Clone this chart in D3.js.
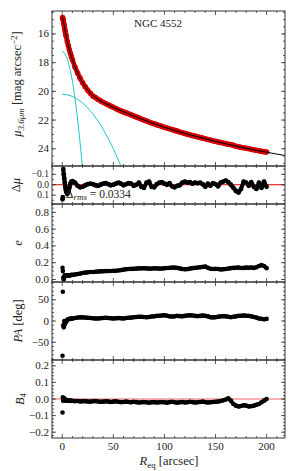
<!DOCTYPE html>
<html>
<head>
<meta charset="utf-8">
<script src="https://cdn.jsdelivr.net/npm/d3@7"></script>
<style>
  body { margin: 0; background: #fff; }
  svg text { font-family: "Liberation Serif", "DejaVu Serif", serif; fill: #222; }
</style>
</head>
<body>
<svg id="chart" width="293" height="471"></svg>
<script>
// radius grid of the isophote fit (arcsec)
var radius = [0.3,0.6,1,1.5,2,2.5,3,3.5,4,5,6,7,8,9,10,
  12.5,15,17.5,20,22.5,25,27.5,30,32.5,35,37.5,40,42.5,45,47.5,50,52.5,55,57.5,60,
  62.5,65,67.5,70,72.5,75,77.5,80,82.5,85,87.5,90,92.5,95,97.5,100,102.5,105,107.5,110,
  112.5,115,117.5,120,122.5,125,127.5,130,132.5,135,137.5,140,142.5,145,147.5,150,
  152.5,155,157.5,160,162.5,165,167.5,170,172.5,175,177.5,180,182.5,185,187.5,190,
  192.5,195,197.5,200];

var mu = [14.85,14.92,15.05,15.25,15.45,15.65,15.85,16.03,16.2,16.52,16.82,17.1,17.35,17.58,17.8,
  18.3,18.72,19.08,19.4,19.68,19.92,20.13,20.32,20.43,20.55,20.66,20.76,20.85,20.94,21.03,21.11,21.2,21.28,21.36,21.43,
  21.5,21.57,21.64,21.71,21.78,21.85,21.92,21.99,22.06,22.13,22.2,22.26,22.32,22.38,22.44,22.5,22.55,22.61,22.66,22.72,
  22.77,22.83,22.88,22.93,22.98,23.03,23.08,23.12,23.17,23.21,23.26,23.3,23.35,23.39,23.44,23.48,
  23.52,23.56,23.6,23.64,23.68,23.71,23.76,23.82,23.86,23.9,23.93,23.96,24.0,24.04,24.07,24.1,
  24.14,24.17,24.2,24.23];

var dmu = [0.14,0.12,-0.15,-0.1,-0.06,-0.02,0.02,0.05,0.07,0.09,0.07,0.03,-0.01,-0.03,-0.035,
  -0.02,0.01,0.025,0.02,0.005,-0.005,-0.01,-0.005,0.005,0.01,0.0,-0.01,-0.015,-0.005,0.005,0.0,-0.01,-0.02,-0.01,0.005,
  -0.005,-0.015,-0.01,0.01,0.0,-0.02,0.02,0.03,-0.02,-0.03,0.02,0.025,-0.005,-0.02,-0.025,-0.01,0.0,-0.015,0.015,0.025,
  0.01,0.005,-0.02,-0.03,-0.02,-0.025,-0.01,-0.02,-0.015,-0.02,-0.005,0.02,-0.01,0.01,-0.015,-0.005,
  0.015,-0.02,-0.03,-0.04,-0.025,0.0,0.03,0.06,0.075,0.04,-0.03,-0.02,0.01,-0.025,0.02,0.04,
  -0.02,0.03,-0.03,0.02];

var ellip = [0.14,0.1,0.02,0.0,0.03,0.05,0.04,0.05,0.045,0.05,0.05,0.045,0.05,0.055,0.055,
  0.06,0.065,0.07,0.078,0.082,0.085,0.09,0.09,0.092,0.095,0.097,0.098,0.1,0.1,0.102,0.103,0.105,0.108,0.112,0.118,
  0.122,0.125,0.127,0.128,0.13,0.132,0.133,0.134,0.132,0.13,0.131,0.133,0.132,0.13,0.131,0.134,0.137,0.139,0.141,0.141,
  0.138,0.132,0.125,0.122,0.124,0.13,0.135,0.138,0.142,0.146,0.15,0.153,0.14,0.128,0.125,0.127,
  0.125,0.12,0.122,0.125,0.13,0.135,0.138,0.14,0.142,0.137,0.138,0.142,0.14,0.143,0.138,0.145,
  0.16,0.172,0.16,0.135];

var pa = [-82,69,-10,-15,0,-8,-5,0,-2,3,4,5,5,6,6,
  7,8,8.5,8.5,8,7.5,7,6.5,6,6,6.5,7,7.5,7,6.5,6,6.5,7,6.5,6,
  7,7.5,8,9,9.5,10,10,9.5,9,9.5,10.5,11,12,12.5,13,13.5,12.5,11,10.5,11,
  12,11.5,11,12,13,13.5,13,12,11.5,12,13,12,11,9,8.5,9,
  10,11,11.5,11,10,9,10,11,12,12.5,13,12.5,12,11,9.5,8,
  6,5,4,5];

var b4 = [-0.081,0.01,-0.01,0.005,-0.005,0.0,-0.008,-0.005,-0.01,-0.008,-0.01,-0.01,-0.012,-0.01,-0.012,
  -0.013,-0.012,-0.015,-0.014,-0.013,-0.015,-0.016,-0.014,-0.012,-0.015,-0.017,-0.016,-0.014,-0.015,-0.018,-0.016,-0.014,-0.017,-0.019,-0.018,
  -0.016,-0.018,-0.02,-0.017,-0.019,-0.021,-0.02,-0.018,-0.02,-0.022,-0.02,-0.019,-0.021,-0.02,-0.018,-0.02,-0.022,-0.019,-0.017,-0.02,
  -0.022,-0.02,-0.018,-0.021,-0.02,-0.017,-0.019,-0.021,-0.02,-0.018,-0.016,-0.019,-0.021,-0.02,-0.018,-0.017,
  -0.015,-0.012,-0.008,-0.003,0.004,-0.01,-0.03,-0.04,-0.045,-0.042,-0.038,-0.04,-0.045,-0.043,-0.04,-0.035,
  -0.03,-0.02,-0.01,0.0];

// total model and the two plotted components
var modelR = [0,1,2,3,4,5,6,7,8,10,12,14,16,18,20,24,28,32,36,40,45,50,60,70,80,90,100,110,120,130,140,150,160,170,180,190,200,210,218];
var modelMu = [14.8,15.05,15.45,15.85,16.2,16.52,16.82,17.1,17.35,17.8,18.2,18.56,18.87,19.16,19.4,19.82,20.17,20.4,20.6,20.76,20.94,21.11,21.43,21.71,21.99,22.26,22.5,22.72,22.93,23.12,23.3,23.48,23.65,23.81,23.97,24.11,24.24,24.37,24.47];

var comp1R = [0,2,4,6,8,10,12,14,16,18,19.5,20.5];
var comp1Mu = [17.23,17.31,17.56,17.98,18.55,19.3,20.2,21.3,22.56,23.95,25.1,25.9];
var comp2R = [0,5,10,15,20,25,30,35,40,45,50,55,58];
var comp2Mu = [20.2,20.24,20.35,20.54,20.81,21.15,21.57,22.06,22.63,23.28,24.0,24.8,25.3];

var xTicks = [0,50,100,150,200];

var svg = d3.select("#chart");
var left = 52, right = 285;
var x = d3.scaleLinear().domain([-10, 218]).range([left, right]);

function makePanel(id, top, bottom, y, major, minorStep, fmt, showX, fs) {
    fs = fs || 11;
    var g = svg.append("g").attr("id", id);
    g.append("clipPath").attr("id", "clip-" + id)
        .append("rect").attr("x", left).attr("y", top)
        .attr("width", right - left).attr("height", bottom - top);
    var plot = g.append("g").attr("clip-path", "url(#clip-" + id + ")");

    var dom = y.domain();
    var lo = Math.min(dom[0], dom[1]), hi = Math.max(dom[0], dom[1]);
    var minor = [];
    for (var v = Math.ceil(lo / minorStep) * minorStep; v <= hi + 1e-9; v += minorStep) minor.push(+v.toFixed(4));
    var xMinor = d3.range(-10, 219, 10);

    var axes = g.append("g").attr("stroke", "#333").attr("stroke-width", 0.8);
    // y ticks, left and right, pointing in
    minor.forEach(function(t) {
        axes.append("line").attr("x1", left).attr("x2", left + 2).attr("y1", y(t)).attr("y2", y(t));
        axes.append("line").attr("x1", right).attr("x2", right - 2).attr("y1", y(t)).attr("y2", y(t));
    });
    major.forEach(function(t) {
        axes.append("line").attr("x1", left).attr("x2", left + 4).attr("y1", y(t)).attr("y2", y(t));
        axes.append("line").attr("x1", right).attr("x2", right - 4).attr("y1", y(t)).attr("y2", y(t));
    });
    xMinor.forEach(function(t) {
        var len = (t % 50 === 0) ? 4 : 2;
        axes.append("line").attr("x1", x(t)).attr("x2", x(t)).attr("y1", top).attr("y2", top + len);
        axes.append("line").attr("x1", x(t)).attr("x2", x(t)).attr("y1", bottom).attr("y2", bottom - len);
    });
    g.append("rect").attr("x", left).attr("y", top)
        .attr("width", right - left).attr("height", bottom - top)
        .attr("fill", "none").attr("stroke", "#333").attr("stroke-width", 1);

    g.selectAll("text.ytick").data(major).enter().append("text")
        .attr("class", "ytick")
        .attr("x", left - 3).attr("y", function(d) { return y(d) + fs * 0.32; })
        .attr("text-anchor", "end").attr("font-size", fs)
        .text(function(d) { return fmt(d).replace("-", "\u2212"); });

    if (showX) {
        g.selectAll("text.xtick").data(xTicks).enter().append("text")
            .attr("class", "xtick")
            .attr("x", function(d) { return x(d); }).attr("y", bottom + 12)
            .attr("text-anchor", "middle").attr("font-size", 11)
            .text(function(d) { return d; });
    }
    return plot;
}

// dense measurements: a thick band through the points plus the markers
function dots(plot, ys, y, fill, r, from) {
    var pts = radius.map(function(d, i) { return [d, ys[i]]; });
    plot.append("path").datum(pts.slice(from))
        .attr("d", d3.line().x(function(d) { return x(d[0]); }).y(function(d) { return y(d[1]); }))
        .attr("fill", "none").attr("stroke", fill).attr("stroke-width", r * 1.7)
        .attr("stroke-linejoin", "round");
    plot.selectAll("circle.pt").data(pts).enter().append("circle")
        .attr("class", "pt")
        .attr("cx", function(d) { return x(d[0]); })
        .attr("cy", function(d) { return y(d[1]); })
        .attr("r", r).attr("fill", fill);
}

// --- surface brightness profile
var y1 = d3.scaleLinear().domain([14.4, 25.2]).range([11, 166]);
var p1 = makePanel("prof", 11, 166, y1, [16,18,20,22,24], 0.5, d3.format("d"), false);
dots(p1, mu, y1, "#d40000", 2.8, 0);
var line1 = d3.line().x(function(d) { return x(d[0]); }).y(function(d) { return y1(d[1]); });
p1.append("path").datum(d3.zip(comp1R, comp1Mu)).attr("d", line1)
    .attr("fill", "none").attr("stroke", "#20c8cc").attr("stroke-width", 1);
p1.append("path").datum(d3.zip(comp2R, comp2Mu)).attr("d", line1)
    .attr("fill", "none").attr("stroke", "#20c8cc").attr("stroke-width", 1);
p1.append("path").datum(d3.zip(modelR, modelMu)).attr("d", line1.curve(d3.curveMonotoneX))
    .attr("fill", "none").attr("stroke", "#000").attr("stroke-width", 1);
svg.append("text").attr("x", 134).attr("y", 27).attr("font-size", 11).text("NGC 4552");

// --- residuals
var y2 = d3.scaleLinear().domain([-0.18, 0.185]).range([166, 204]);
var p2 = makePanel("res", 166, 204, y2, [-0.1, 0, 0.1], 0.05, d3.format(".1f"), false, 9.5);
p2.append("line").attr("x1", left).attr("x2", right).attr("y1", y2(0)).attr("y2", y2(0))
    .attr("stroke", "#e00000").attr("stroke-width", 1);
dots(p2, dmu, y2, "#000", 2.4, 2);
var rms = svg.append("text").attr("x", 66).attr("y", 198).attr("font-size", 11.5);
rms.append("tspan").text("\u0394");
rms.append("tspan").attr("font-style", "italic").attr("font-size", 9).attr("dy", 2).text("rms");
rms.append("tspan").attr("dy", -2).text(" = 0.0334");

// --- ellipticity
var y3 = d3.scaleLinear().domain([-0.03, 0.9]).range([282, 204]);
var p3 = makePanel("ell", 204, 282, y3, [0, 0.2, 0.4, 0.6, 0.8], 0.05, d3.format(".1f"), false);
dots(p3, ellip, y3, "#000", 2.3, 4);

// --- position angle
var y4 = d3.scaleLinear().domain([-92, 92]).range([360, 282]);
var p4 = makePanel("pa", 282, 360, y4, [-50, 0, 50], 10, d3.format("d"), false);
dots(p4, pa, y4, "#000", 2.3, 4);

// --- B4
var y5 = d3.scaleLinear().domain([-0.235, 0.235]).range([438, 360]);
var p5 = makePanel("b4", 360, 438, y5, [-0.2, -0.1, 0, 0.1, 0.2], 0.02, d3.format(".1f"), true);
p5.append("line").attr("x1", left).attr("x2", right).attr("y1", y5(0)).attr("y2", y5(0))
    .attr("stroke", "#f06060").attr("stroke-width", 1);
dots(p5, b4, y5, "#000", 2.3, 1);

// axis titles
function ylabel(cx, cy) {
    return svg.append("text").attr("transform", "translate(" + cx + "," + cy + ") rotate(-90)")
        .attr("text-anchor", "middle").attr("font-size", 12.5);
}
var t1 = ylabel(21, 84);
t1.append("tspan").attr("font-style", "italic").text("\u03bc");
t1.append("tspan").attr("font-style", "italic").attr("font-size", 9).attr("dy", 2.5).text("3.6\u03bcm");
t1.append("tspan").attr("dy", -2.5).text(" [mag arcsec");
t1.append("tspan").attr("font-size", 9).attr("dy", -4).text("\u22122");
t1.append("tspan").attr("dy", 4).text("]");
ylabel(20, 185).append("tspan").text("\u0394").append("tspan").attr("font-style", "italic").text("\u03bc");
ylabel(22, 243).attr("font-style", "italic").text("e");
var t4 = ylabel(22, 321);
t4.append("tspan").attr("font-style", "italic").text("PA");
t4.append("tspan").text(" [deg]");
var t5 = ylabel(24, 399);
t5.append("tspan").attr("font-style", "italic").text("B");
t5.append("tspan").attr("font-size", 9).attr("dy", 2).text("4");
var xl = svg.append("text").attr("x", 169).attr("y", 465).attr("text-anchor", "middle").attr("font-size", 12.5);
xl.append("tspan").attr("font-style", "italic").text("R");
xl.append("tspan").attr("font-size", 9).attr("dy", 2.5).text("eq");
xl.append("tspan").attr("dy", -2.5).text(" [arcsec]");
</script>
</body>
</html>
